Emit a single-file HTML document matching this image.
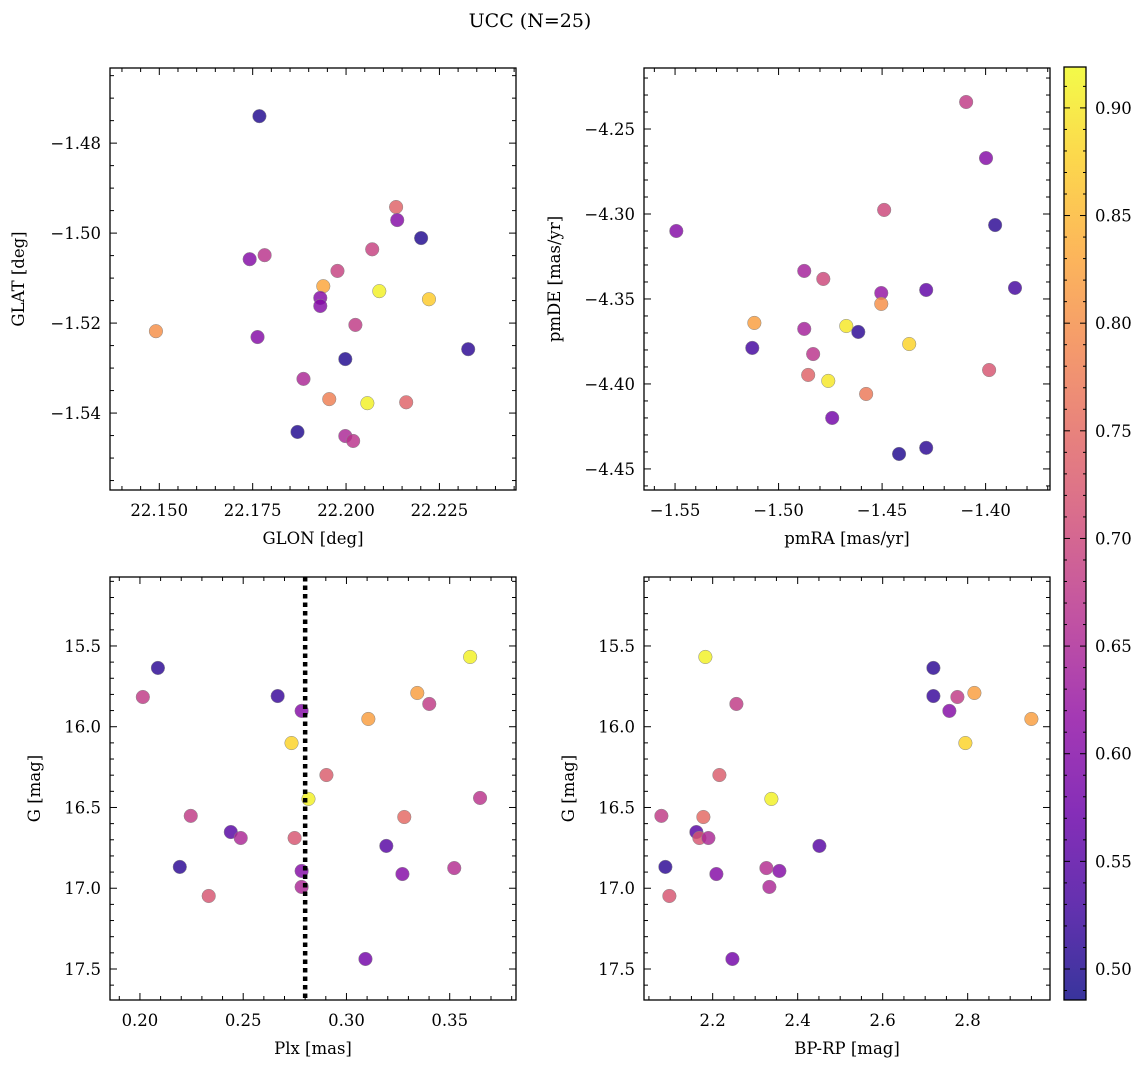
<!DOCTYPE html>
<html><head><meta charset="utf-8"><style>
body{margin:0;background:#fff;}
svg text{font-family:"DejaVu Serif","Liberation Serif",serif;fill:#000;}
</style></head><body>
<svg id="fig" width="1148" height="1067" xmlns="http://www.w3.org/2000/svg">
<defs>
<linearGradient id="plasma" x1="0" y1="1" x2="0" y2="0"></linearGradient>
</defs>
<text x="530" y="27" font-size="19" text-anchor="middle">UCC (N=25)</text>
</svg>
<script>
// ---- data ----
const glon=[22.1768,22.1491,22.1742,22.1782,22.1763,22.1870,22.1886,22.1939,22.1931,22.1931,22.1977,22.2025,22.1998,22.1955,22.2057,22.1998,22.2019,22.2161,22.2134,22.2137,22.2070,22.2201,22.2222,22.2327,22.2089];
const glat=[-1.4740,-1.5218,-1.5058,-1.5049,-1.5231,-1.5442,-1.5324,-1.5118,-1.5144,-1.5162,-1.5084,-1.5204,-1.5280,-1.5369,-1.5378,-1.5451,-1.5462,-1.5376,-1.4942,-1.4971,-1.5036,-1.5011,-1.5147,-1.5258,-1.5129];
const probA=[0.50,0.80,0.60,0.67,0.60,0.50,0.65,0.83,0.60,0.60,0.69,0.68,0.50,0.78,0.91,0.65,0.67,0.74,0.74,0.60,0.69,0.50,0.87,0.51,0.91];

const pmra=[-1.5494,-1.4094,-1.3998,-1.3954,-1.4490,-1.4876,-1.4784,-1.4504,-1.4504,-1.4287,-1.3858,-1.5117,-1.4876,-1.4673,-1.4615,-1.4369,-1.5127,-1.4833,-1.3983,-1.4857,-1.4760,-1.4577,-1.4741,-1.4418,-1.4287];
const pmde=[-4.3100,-4.2341,-4.2671,-4.3065,-4.2976,-4.3335,-4.3382,-4.3465,-4.3529,-4.3447,-4.3435,-4.3641,-4.3676,-4.3659,-4.3694,-4.3765,-4.3788,-4.3824,-4.3918,-4.3947,-4.3982,-4.4059,-4.4200,-4.4412,-4.4376];
const probB=[0.60,0.68,0.60,0.51,0.70,0.64,0.70,0.62,0.80,0.56,0.53,0.82,0.64,0.90,0.51,0.88,0.53,0.67,0.72,0.74,0.90,0.77,0.58,0.50,0.51];

const plx=[0.2014,0.2087,0.2246,0.2193,0.2333,0.2440,0.2488,0.2667,0.2734,0.2749,0.2783,0.2783,0.2783,0.2816,0.2903,0.3092,0.3106,0.3193,0.3280,0.3271,0.3343,0.3401,0.3522,0.3599,0.3647];
const gmagC=[15.816,15.636,16.552,16.868,17.048,16.652,16.689,15.810,16.101,16.689,15.902,16.893,16.992,16.447,16.299,17.438,15.952,16.738,16.559,16.912,15.791,15.859,16.875,15.568,16.441];
const probC=[0.68,0.51,0.68,0.51,0.72,0.55,0.65,0.52,0.88,0.72,0.60,0.60,0.65,0.91,0.73,0.58,0.82,0.55,0.75,0.60,0.82,0.68,0.66,0.91,0.67];
const plxRef=[0.28];

const bprp=[2.1828,2.7193,2.7193,2.7758,2.8158,2.7569,2.9499,2.2558,2.7946,2.2158,2.3381,2.0793,2.1781,2.1616,2.1687,2.1899,2.4511,2.0887,2.2087,2.3264,2.3569,2.3334,2.0981,2.2464];
const gmagD=[15.568,15.636,15.810,15.816,15.791,15.902,15.952,15.859,16.101,16.299,16.447,16.552,16.559,16.652,16.689,16.689,16.738,16.868,16.912,16.875,16.893,16.992,17.048,17.438];
const probD=[0.91,0.51,0.52,0.68,0.82,0.60,0.82,0.68,0.88,0.73,0.91,0.68,0.75,0.55,0.72,0.65,0.55,0.51,0.60,0.66,0.60,0.65,0.72,0.58];

const cbTicks=[0.50,0.55,0.60,0.65,0.70,0.75,0.80,0.85,0.90];
const cMin=0.4856, cMax=0.919;

// ---- plasma colormap ----
const stops=["#0d0887","#41049d","#6a00a8","#8f0da4","#b12a90","#cc4778","#e16462","#f2844b","#fca636","#fcce25","#f0f921"];
function hex(h){return [1,3,5].map(i=>parseInt(h.substr(i,2),16));}
function plasma(t){t=Math.max(0,Math.min(1,t));const f=t*10,i=Math.min(9,Math.floor(f)),u=f-i;const a=hex(stops[i]),b=hex(stops[i+1]);return 'rgb('+a.map((v,k)=>Math.round(v+(b[k]-v)*u)).join(',')+')';}
function cnorm(c){return (c-cMin)/(cMax-cMin);}

const NS="http://www.w3.org/2000/svg";
const svg=document.getElementById('fig');
function mk(tag,attrs,parent){const e=document.createElementNS(NS,tag);for(const k in attrs)e.setAttribute(k,attrs[k]);(parent||svg).appendChild(e);return e;}
function fmt(v,d){const s=Math.abs(v).toFixed(d);return (v<0?'\u2212':'')+s;}

function panel(o){
  const g=mk('g',{});
  
  
  const sx=v=>o.x0+(v-o.xd[0])/(o.xd[1]-o.xd[0])*(o.x1-o.x0);
  const sy=v=>o.y1-(v-o.yd[0])/(o.yd[1]-o.yd[0])*(o.y1-o.y0);
  // points
  for(let i=0;i<o.xs.length;i++){
    const c=mk('circle',{cx:sx(o.xs[i]),cy:sy(o.ys[i]),r:6.8,fill:plasma(cnorm(o.cs[i])),'fill-opacity':0.82,stroke:'#888','stroke-width':0.5},g);
    
    
  }
  if(o.vline){for(const v of o.vline){const l=mk('line',{x1:sx(v),x2:sx(v),y1:o.y0,y2:o.y1,stroke:'#000','stroke-width':4.5,'stroke-dasharray':'4.5 4'},g);
    
    }}
  // frame
  const fr=mk('rect',{x:o.x0,y:o.y0,width:o.x1-o.x0,height:o.y1-o.y0,fill:'none',stroke:'#000','stroke-width':1.3},g);
  
  
  // x ticks
  const eps=1e-9;
  const xs0=Math.ceil(o.xd[0]/o.xmin-eps)*o.xmin;
  for(let v=xs0;v<=o.xd[1]+eps;v+=o.xmin){
    const isMaj=Math.abs(v/o.xmaj-Math.round(v/o.xmaj))<1e-4;const L=isMaj?7:4;const X=sx(v);
    mk('line',{x1:X,x2:X,y1:o.y1,y2:o.y1-L,stroke:'#000','stroke-width':1},g);
    mk('line',{x1:X,x2:X,y1:o.y0,y2:o.y0+L,stroke:'#000','stroke-width':1},g);
    if(isMaj){const t=mk('text',{x:X,y:o.y1+26,'font-size':16.5,'text-anchor':'middle'},g);t.textContent=fmt(v,o.xdec);
      
      }
  }
  const ys0=Math.ceil(Math.min(o.yd[0],o.yd[1])/o.ymin-eps)*o.ymin;
  for(let v=ys0;v<=Math.max(o.yd[0],o.yd[1])+eps;v+=o.ymin){
    const isMaj=Math.abs(v/o.ymaj-Math.round(v/o.ymaj))<1e-4;const L=isMaj?7:4;const Y=sy(v);
    mk('line',{x1:o.x0,x2:o.x0+L,y1:Y,y2:Y,stroke:'#000','stroke-width':1},g);
    mk('line',{x1:o.x1,x2:o.x1-L,y1:Y,y2:Y,stroke:'#000','stroke-width':1},g);
    if(isMaj){const t=mk('text',{x:o.x0-9,y:Y+6,'font-size':16.5,'text-anchor':'end'},g);t.textContent=fmt(v,o.ydec);
      
      }
  }
  const xl=mk('text',{x:(o.x0+o.x1)/2,y:o.y1+54,'font-size':16.5,'text-anchor':'middle'},g);xl.textContent=o.xlabel;
  
  
  const yx=o.ylabx, yy=(o.y0+o.y1)/2;
  const yl=mk('text',{x:yx,y:yy,'font-size':16.5,'text-anchor':'middle',transform:'rotate(-90 '+yx+' '+yy+')'},g);yl.textContent=o.ylabel;
  
  
}

panel({name:'glon-glat-panel',x0:110,x1:516,y0:68,y1:490,xd:[22.1368,22.2455],yd:[-1.5571,-1.4633],xs:glon,ys:glat,cs:probA,xmaj:0.025,xmin:0.005,ymaj:0.02,ymin:0.005,xdec:3,ydec:2,xlabel:'GLON [deg]',ylabel:'GLAT [deg]',ylabx:24});
panel({name:'proper-motion-panel',x0:644,x1:1050,y0:68,y1:490,xd:[-1.565,-1.3689],yd:[-4.4624,-4.2141],xs:pmra,ys:pmde,cs:probB,xmaj:0.05,xmin:0.01,ymaj:0.05,ymin:0.01,xdec:2,ydec:2,xlabel:'pmRA [mas/yr]',ylabel:'pmDE [mas/yr]',ylabx:560});
panel({name:'plx-g-panel',x0:110,x1:516,y0:577,y1:1000,xd:[0.1855,0.3821],yd:[17.692,15.073],xs:plx,ys:gmagC,cs:probC,xmaj:0.05,xmin:0.01,ymaj:0.5,ymin:0.1,xdec:2,ydec:1,xlabel:'Plx [mas]',ylabel:'G [mag]',ylabx:40,vline:plxRef});
panel({name:'cmd-panel',x0:644,x1:1050,y0:577,y1:1000,xd:[2.0384,2.9937],yd:[17.692,15.073],xs:bprp,ys:gmagD,cs:probD,xmaj:0.2,xmin:0.05,ymaj:0.5,ymin:0.1,xdec:1,ydec:1,xlabel:'BP-RP [mag]',ylabel:'G [mag]',ylabx:574});

// colorbar
const grad=document.getElementById('plasma');
for(let i=0;i<=20;i++){mk('stop',{offset:(i/20),'stop-color':plasma(i/20)},grad);}
const cb=mk('g',{});


const cy0=67,cy1=1000,cx0=1064,cx1=1086;
mk('rect',{x:cx0,y:cy0,width:cx1-cx0,height:cy1-cy0,fill:'url(#plasma)','fill-opacity':0.82},cb);
mk('rect',{x:cx0,y:cy0,width:cx1-cx0,height:cy1-cy0,fill:'none',stroke:'#000','stroke-width':1.3},cb);
const cys=v=>cy1-(v-cMin)/(cMax-cMin)*(cy1-cy0);
for(let v=0.49;v<=cMax;v+=0.01){const Y=cys(v);const maj=cbTicks.some(t=>Math.abs(t-v)<1e-4);
  mk('line',{x1:cx1,x2:cx1-(maj?6:3),y1:Y,y2:Y,stroke:'#000','stroke-width':1},cb);
  mk('line',{x1:cx0,x2:cx0+(maj?6:3),y1:Y,y2:Y,stroke:'#000','stroke-width':1},cb);}
for(const v of cbTicks){const t=mk('text',{x:cx1+9,y:cys(v)+6,'font-size':16.5},cb);t.textContent=v.toFixed(2);
  
  }
</script>
</body></html>
